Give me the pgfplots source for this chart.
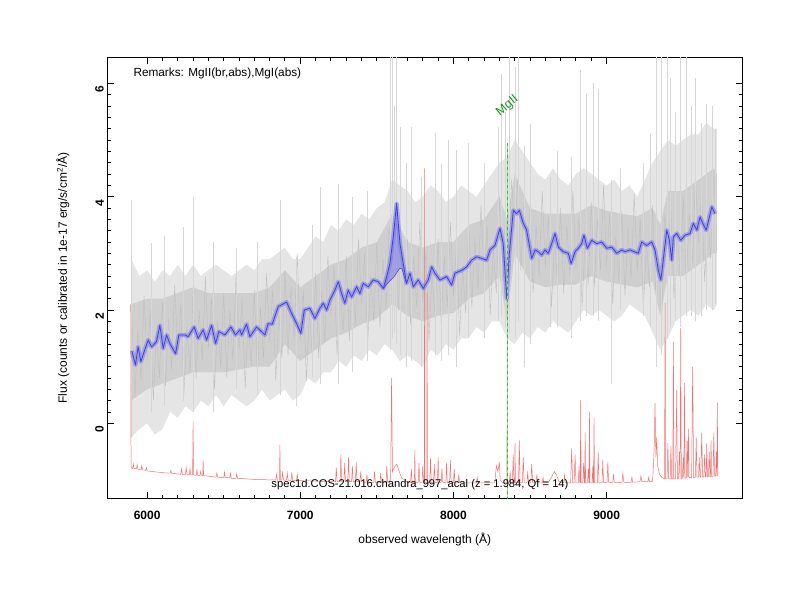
\documentclass[border=0pt]{standalone}
\usepackage{pgfplots}
\pgfplotsset{compat=1.18}
\usepgfplotslibrary{fillbetween}
\usepackage{fontspec}
\setmainfont{Liberation Sans}
\definecolor{grayout}{RGB}{229,229,229}
\definecolor{graycore}{RGB}{207,207,207}
\definecolor{grayjag}{RGB}{192,192,192}
\definecolor{grayspike}{RGB}{214,214,214}
\definecolor{blueline}{RGB}{65,65,222}
\definecolor{blueband}{RGB}{125,125,235}
\definecolor{redline}{RGB}{240,115,115}
\definecolor{mggreen}{RGB}{20,150,20}
\definecolor{mgdash}{RGB}{60,185,60}
\definecolor{mglight}{RGB}{150,220,150}

\pgfplotstableread{
x up lo
5895 2.9 -0.25
5950 2.6 -0.1
6000 2.7 0.0
6050 2.5 -0.2
6100 2.7 -0.1
6150 2.6 0.2
6200 2.8 0.1
6250 2.6 0.3
6300 2.8 0.2
6350 2.6 0.4
6400 2.7 0.3
6450 2.8 0.5
6500 2.7 0.3
6550 2.6 0.5
6600 2.7 0.4
6650 2.8 0.3
6700 2.7 0.4
6750 2.9 0.6
6800 2.9 0.4
6850 3.0 0.5
6900 3.1 0.6
6950 2.9 0.4
7000 2.9 0.5
7050 3.1 0.8
7100 3.3 0.7
7150 3.2 0.9
7200 3.5 0.9
7250 3.4 1.1
7300 3.6 1.0
7350 3.5 1.2
7400 3.7 1.1
7450 3.6 1.3
7500 3.8 1.2
7550 3.9 1.4
7600 4.3 1.3
7650 4.2 1.1
7700 4.1 1.2
7750 3.9 1.1
7800 4.0 1.0
7850 4.2 1.3
7900 4.1 1.2
7950 3.9 1.4
8000 4.0 1.3
8050 4.2 1.5
8100 4.1 1.5
8150 4.0 1.7
8200 4.2 1.6
8250 4.4 1.8
8300 4.6 1.8
8350 4.7 1.5
8400 5.0 1.4
8450 4.8 1.6
8500 4.6 1.5
8550 4.4 1.7
8600 4.3 1.6
8650 4.5 1.8
8700 4.3 1.7
8750 4.2 1.6
8800 4.4 1.8
8850 4.5 2.0
8900 4.4 1.9
8950 4.3 2.0
9000 4.2 1.9
9050 4.3 1.8
9100 4.1 1.9
9150 4.2 2.1
9200 4.0 2.0
9250 4.3 1.9
9300 4.6 1.6
9350 4.8 1.3
9400 5.0 1.5
9450 4.9 1.8
9500 5.0 1.9
9550 5.1 2.0
9600 5.1 1.9
9650 5.3 2.1
9700 5.2 2.0
9720 5.2 2.1
}\outer

\pgfplotstableread{
x up lo
5895 2.1 0.4
6000 2.2 0.6
6100 2.2 0.7
6200 2.3 0.8
6300 2.4 0.9
6400 2.3 0.9
6500 2.3 0.9
6600 2.3 0.95
6700 2.3 1.0
6800 2.4 1.0
6900 2.7 1.4
7000 2.4 1.1
7100 2.6 1.3
7200 2.8 1.5
7300 2.9 1.6
7400 3.1 1.75
7500 3.2 1.85
7600 3.7 2.1
7700 3.2 1.9
7800 3.1 1.8
7900 3.2 1.9
8000 3.2 1.95
8100 3.5 2.2
8200 3.6 2.3
8300 4.0 2.6
8350 3.6 1.8
8400 4.4 3.0
8500 3.8 2.5
8600 3.7 2.4
8700 3.7 2.45
8800 3.7 2.45
8900 3.85 2.6
9000 3.75 2.5
9100 3.7 2.45
9200 3.65 2.4
9300 3.8 2.5
9350 3.5 1.9
9400 4.1 2.6
9500 4.1 2.6
9600 4.3 2.8
9700 4.5 3.0
9720 4.4 3.0
}\core

\pgfplotstableread{
x y
5900 1.95
5920 0.45
5940 1.65
5960 0.75
5980 2.25
6000 1.1
6020 2.0
6040 0.4
6060 1.6
6080 0.8
6100 2.15
6120 0.65
6140 1.85
6160 0.95
6180 2.45
6200 1.2
6220 2.1
6240 0.5
6260 1.7
6280 0.9
6300 2.3
6320 0.8
6340 2.0
6360 1.1
6380 2.6
6400 1.3
6420 2.2
6440 0.6
6460 1.8
6480 1.0
6500 2.3
6520 0.8
6540 2.0
6560 1.1
6580 2.6
6600 1.32
6620 2.22
6640 0.62
6660 1.82
6680 1.02
6700 2.35
6720 0.85
6740 2.05
6760 1.15
6780 2.65
6800 1.45
6820 2.35
6840 0.75
6860 1.95
6880 1.15
6900 2.7
6920 1.2
6940 2.4
6960 1.5
6980 3.0
7000 1.45
7020 2.35
7040 0.75
7060 1.95
7080 1.15
7100 2.65
7120 1.15
7140 2.35
7160 1.45
7180 2.95
7200 1.9
7220 2.8
7240 1.2
7260 2.4
7280 1.6
7300 2.95
7320 1.45
7340 2.65
7360 1.75
7380 3.25
7400 2.1
7420 3.0
7440 1.4
7460 2.6
7480 1.8
7500 3.2
7520 1.7
7540 2.9
7560 2.0
7580 3.5
7600 2.7
7620 3.6
7640 2.0
7660 3.2
7680 2.4
7700 3.25
7720 1.75
7740 2.95
7760 2.05
7780 3.55
7800 2.15
7820 3.05
7840 1.45
7860 2.65
7880 1.85
7900 3.25
7920 1.75
7940 2.95
7960 2.05
7980 3.55
8000 2.25
8020 3.15
8040 1.55
8060 2.75
8080 1.95
8100 3.55
8120 2.05
8140 3.25
8160 2.35
8180 3.85
8200 2.6
8220 3.5
8240 1.9
8260 3.1
8280 2.3
8300 4.0
8320 2.5
8340 3.7
8360 2.8
8380 4.3
8400 3.4
8420 4.3
8440 2.7
8460 3.9
8480 3.1
8500 3.8
8520 2.3
8540 3.5
8560 2.6
8580 4.1
8600 2.75
8620 3.65
8640 2.05
8660 3.25
8680 2.45
8700 3.8
8720 2.3
8740 3.5
8760 2.6
8780 4.1
8800 2.75
8820 3.65
8840 2.05
8860 3.25
8880 2.45
8900 3.9
8920 2.4
8940 3.6
8960 2.7
8980 4.2
9000 2.8
9020 3.7
9040 2.1
9060 3.3
9080 2.5
9100 3.75
9120 2.25
9140 3.45
9160 2.55
9180 4.05
9200 2.7
9220 3.6
9240 2.0
9260 3.2
9280 2.4
9300 3.85
9320 2.35
9340 2.9
9360 1.8
9380 3.7
9400 2.9
9420 3.8
9440 2.2
9460 3.4
9480 2.6
9500 4.0
9520 2.5
9540 3.7
9560 2.8
9580 4.3
9600 3.2
9620 4.1
9640 2.5
9660 3.7
9680 2.9
9700 4.45
9720 3.05
}\jag

\pgfplotstableread{
x y
5898 -0.24
5898 3.94
5898 nan
6029 0.2
6029 3.18
6029 nan
6110 0.3
6110 3.3
6110 nan
6235 0.4
6235 3.47
6235 nan
6300 0.2
6300 4.0
6300 nan
6430 0.2
6430 3.2
6430 nan
6580 0.6
6580 3.1
6580 nan
6720 0.5
6720 3.2
6720 nan
6867 0.5
6867 3.94
6867 nan
6976 0.3
6976 2.94
6976 nan
7080 0.8
7080 3.5
7080 nan
7128 0.7
7128 4.17
7128 nan
7248 0.7
7248 4.23
7248 nan
7340 0.9
7340 4.0
7340 nan
7440 1.1
7440 4.1
7440 nan
7585 1.3
7585 6.46
7585 nan
7600 1.5
7600 6.46
7600 nan
7615 1.6
7615 5.6
7615 nan
7629 1.4
7629 6.46
7629 nan
7651 1.2
7651 5.23
7651 nan
7690 1.0
7690 4.6
7690 nan
7727 1.1
7727 5.23
7727 nan
7792 1.0
7792 4.35
7792 nan
7879 1.2
7879 5.12
7879 nan
7923 1.1
7923 4.58
7923 nan
7966 1.2
7966 5.0
7966 nan
8021 1.0
8021 4.82
8021 nan
8097 1.5
8097 4.94
8097 nan
8200 1.5
8200 4.6
8200 nan
8293 1.8
8293 5.23
8293 nan
8315 1.9
8315 6.17
8315 nan
8340 1.7
8340 5.5
8340 nan
8365 1.6
8365 6.46
8365 nan
8402 1.5
8402 6.29
8402 nan
8424 1.8
8424 6.46
8424 nan
8460 1.0
8460 4.9
8460 nan
8500 1.4
8500 5.29
8500 nan
8630 1.7
8630 4.35
8630 nan
8680 1.7
8680 4.8
8680 nan
8770 1.5
8770 4.7
8770 nan
8826 1.8
8826 6.23
8826 nan
8870 1.9
8870 5.82
8870 nan
8913 1.9
8913 6.0
8913 nan
8945 1.8
8945 5.9
8945 nan
9030 0.7
9030 4.3
9030 nan
9088 2.0
9088 4.5
9088 nan
9240 1.9
9240 4.6
9240 nan
9284 1.7
9284 5.1
9284 nan
9327 1.0
9327 6.46
9327 nan
9360 1.2
9360 6.46
9360 nan
9393 1.5
9393 6.46
9393 nan
9415 1.7
9415 6.1
9415 nan
9450 1.8
9450 5.5
9450 nan
9480 1.7
9480 6.46
9480 nan
9519 1.9
9519 6.46
9519 nan
9550 1.9
9550 5.6
9550 nan
9578 1.8
9578 6.1
9578 nan
9620 1.9
9620 5.3
9620 nan
9654 2.0
9654 5.64
9654 nan
9687 2.0
9687 5.6
9687 nan
9710 2.1
9710 5.2
}\spikes

\pgfplotstableread{
x y
5900 1.28
5924 1.03
5941 1.35
5959 1.09
5985 1.30
6007 1.47
6029 1.35
6061 1.44
6083 1.73
6105 1.32
6127 1.56
6148 1.41
6186 1.23
6207 1.56
6246 1.56
6268 1.53
6307 1.70
6333 1.50
6366 1.65
6388 1.47
6421 1.73
6447 1.41
6468 1.62
6508 1.56
6547 1.70
6577 1.56
6606 1.65
6617 1.56
6649 1.75
6671 1.53
6715 1.70
6769 1.56
6790 1.76
6817 1.75
6856 2.06
6911 2.14
6943 1.94
6976 1.76
7004 1.59
7026 2.00
7063 2.03
7095 1.85
7128 2.03
7150 2.12
7172 2.00
7193 2.17
7226 2.35
7248 2.50
7270 2.29
7291 2.12
7313 2.35
7335 2.23
7368 2.41
7389 2.29
7411 2.47
7444 2.41
7476 2.53
7509 2.50
7542 2.38
7564 2.59
7585 2.82
7607 3.29
7629 3.88
7651 3.17
7672 2.82
7694 2.47
7716 2.65
7738 2.41
7770 2.53
7803 2.38
7835 2.53
7858 2.76
7879 2.65
7912 2.53
7956 2.59
7988 2.44
8010 2.65
8054 2.70
8086 2.76
8119 2.88
8152 2.94
8184 2.91
8217 2.88
8239 3.06
8271 3.14
8304 3.44
8325 3.17
8348 2.20
8365 3.00
8391 3.76
8413 3.70
8430 3.76
8456 3.53
8478 3.41
8511 2.91
8533 3.06
8554 3.03
8576 2.97
8598 3.06
8619 3.00
8641 3.17
8663 3.35
8685 3.11
8717 3.03
8750 3.00
8768 2.82
8794 3.03
8815 3.09
8837 3.17
8852 3.32
8874 3.09
8903 3.23
8936 3.17
8968 3.20
9001 3.09
9034 3.11
9066 3.00
9099 3.06
9120 3.03
9153 3.06
9179 3.03
9207 3.00
9229 3.20
9262 3.14
9295 3.20
9316 3.06
9338 2.70
9354 2.53
9375 3.00
9393 3.41
9410 3.23
9425 2.88
9436 3.29
9458 3.35
9484 3.23
9512 3.32
9545 3.35
9566 3.53
9589 3.41
9610 3.64
9628 3.53
9650 3.41
9671 3.64
9687 3.82
9708 3.70
}\smooth

\pgfplotstableread{
x y
5893 2.1
5895 -0.78
5905 -0.8
5910 -0.72
5915 -0.8
5930 -0.8
5935 -0.73
5940 -0.81
5960 -0.82
5965 -0.75
5970 -0.82
5990 -0.83
5995 -0.78
6000 -0.84
6100 -0.87
6150 -0.88
6155 -0.83
6160 -0.88
6220 -0.9
6225 -0.8
6230 -0.9
6250 -0.9
6255 -0.78
6260 -0.9
6275 -0.91
6280 -0.8
6285 -0.91
6297 -0.91
6300 0.03
6303 -0.91
6320 -0.92
6325 -0.82
6330 -0.92
6345 -0.92
6350 -0.85
6355 -0.92
6363 -0.92
6366 -0.65
6369 -0.92
6450 -0.95
6455 -0.88
6460 -0.95
6500 -0.96
6505 -0.86
6510 -0.96
6540 -0.96
6545 -0.88
6550 -0.97
6580 -0.97
6585 -0.89
6590 -0.97
6700 -0.99
6840 -1.0
6845 -0.9
6850 -1.0
6864 -1.0
6867 -0.38
6870 -1.0
6880 -1.0
6885 -0.85
6890 -1.0
6910 -1.0
6915 -0.88
6920 -1.0
6940 -1.01
6945 -0.86
6950 -1.01
6975 -1.01
6980 -0.9
6985 -1.01
7100 -1.02
7230 -1.03
7235 -0.78
7240 -1.03
7260 -1.03
7265 -0.55
7270 -1.03
7285 -1.03
7290 -0.7
7295 -1.03
7310 -1.03
7315 -0.6
7320 -1.03
7335 -1.03
7340 -0.75
7345 -1.03
7360 -1.03
7365 -0.68
7370 -1.03
7390 -1.03
7395 -0.85
7400 -1.03
7430 -1.04
7435 -0.9
7440 -1.04
7480 -1.04
7485 -0.85
7490 -1.04
7520 -1.04
7525 -0.88
7530 -1.04
7560 -1.04
7565 -0.75
7570 -1.04
7590 -1.0
7596 0.8
7602 -0.85
7610 -0.8
7620 -0.75
7630 -0.72
7640 -0.8
7650 -0.88
7660 -0.95
7680 -1.0
7700 -1.04
7720 -1.04
7725 -0.8
7730 -1.04
7745 -1.04
7748 -0.47
7751 -1.04
7770 -1.04
7775 -0.7
7780 -1.04
7795 -1.04
7800 -0.75
7805 -1.04
7810 -1.04
7812 4.5
7814 -1.04
7826 -1.04
7828 2.3
7830 -1.04
7845 -1.04
7850 -0.62
7855 -1.04
7870 -1.04
7875 -0.72
7880 -1.04
7895 -1.04
7900 -0.6
7905 -1.04
7920 -1.04
7925 -0.8
7930 -1.04
7950 -1.05
7955 -0.7
7960 -1.05
7975 -1.05
7980 -0.65
7985 -1.05
8000 -1.05
8005 -0.8
8010 -1.05
8030 -1.05
8035 -0.9
8040 -1.05
8150 -1.05
8155 -0.95
8160 -1.05
8270 -1.05
8280 -0.75
8290 -0.85
8300 -0.68
8305 -1.0
8320 -1.05
8340 -1.05
8348 -1.05
8350 -0.05
8352 -1.05
8365 -1.05
8370 -0.85
8375 -1.05
8385 -1.05
8390 -0.55
8395 -1.05
8400 -1.05
8402 -0.35
8405 -1.05
8425 -1.05
8430 -0.3
8435 -1.05
8450 -1.05
8456 -0.6
8462 -1.05
8480 -1.05
8485 -0.85
8490 -1.05
8505 -1.05
8511 -0.72
8517 -1.05
8540 -1.05
8545 -0.9
8550 -1.05
8580 -1.05
8585 -0.95
8590 -1.05
8620 -1.04
8640 -0.95
8660 -0.85
8670 -0.9
8690 -1.03
8720 -1.05
8725 -0.92
8730 -1.05
8765 -1.05
8772 -0.44
8778 -1.05
8788 -1.05
8794 -0.55
8800 -1.05
8815 -1.05
8820 -0.75
8825 -1.05
8828 -1.05
8831 0.41
8834 -1.05
8845 -1.05
8850 -0.7
8855 -1.05
8857 -1.05
8860 -0.16
8863 -1.05
8875 -1.05
8880 -0.8
8885 -1.05
8888 0.2
8891 -1.05
8905 -1.05
8910 -0.75
8913 -1.05
8915 -1.05
8918 0.1
8921 -1.05
8940 -1.05
8945 -0.5
8950 -1.05
8970 -1.05
8975 -0.65
8980 -1.05
9003 -1.04
9008 -0.68
9013 -1.04
9040 -1.04
9045 -0.9
9050 -1.04
9100 -1.04
9106 -0.88
9112 -1.04
9160 -1.04
9165 -0.95
9170 -1.04
9218 -1.03
9224 -0.93
9230 -1.03
9270 -1.03
9275 -0.95
9280 -1.03
9300 -1.02
9310 -0.5
9316 0.36
9322 -0.6
9327 -0.25
9333 -0.75
9345 -0.9
9360 -0.95
9372 -0.98
9378 -0.98
9382 2.12
9386 -0.98
9395 -0.98
9400 -0.35
9405 -0.98
9415 -0.98
9420 -0.4
9425 -0.98
9432 -0.98
9436 1.44
9440 -0.98
9450 -0.98
9458 0.59
9462 -0.98
9470 -0.97
9475 -0.5
9480 -0.97
9484 1.68
9488 -0.97
9495 -0.97
9500 -0.6
9504 -0.97
9508 0.71
9512 -0.97
9520 -0.96
9525 -0.3
9530 -0.96
9534 -0.1
9538 -0.96
9555 -0.96
9562 1.0
9568 -0.96
9580 -0.95
9585 -0.24
9590 -0.95
9600 -0.95
9605 -0.6
9610 -0.95
9615 -0.95
9621 -0.17
9627 -0.95
9635 -0.94
9640 -0.55
9645 -0.94
9650 -0.94
9654 -0.35
9658 -0.94
9665 -0.94
9670 -0.5
9675 -0.94
9678 -0.94
9682 -0.3
9686 -0.94
9695 -0.93
9700 -0.16
9705 -0.93
9712 -0.93
9717 -0.5
9720 -0.93
9723 0.36
9726 -0.93
}\sky

\begin{document}
\begin{tikzpicture}[x=1pt,y=1pt]
\begin{axis}[
  at={(107.3pt,101.3pt)}, anchor=south west,
  scale only axis, width=635pt, height=441.4pt,
  xmin=5740, xmax=9886, ymin=-1.33, ymax=6.46,
  xtick={6000,7000,8000,9000}, ytick={0,2,4,6},
  minor x tick num=9, minor y tick num=9,
  scaled x ticks=false,
  tick align=inside,
  major tick length=6.5pt, minor tick length=3.3pt,
  every tick/.style={black, line width=1pt},
  axis line style={line width=1.3pt},
  /pgf/number format/assume math mode=true,
  /pgf/number format/1000 sep={},
  ticklabel style={font=\bfseries\fontsize{12}{14}\selectfont},
  xticklabel style={yshift=-9pt},
  yticklabel style={rotate=90, anchor=south, xshift=-6pt},
  xlabel={observed wavelength (Å)},
  ylabel={Flux (counts or calibrated in 1e-17 erg/s/cm\textsuperscript{2}/Å)},
  label style={font=\fontsize{12}{14}\selectfont},
  xlabel style={at={(axis description cs:0.5,-0.092)}, anchor=center},
  ylabel style={at={(axis description cs:-0.0698,0.5)}, anchor=center},
]
% gray observed spectrum: outer envelope, dense core, noisy trace, spikes
\addplot[name path=OU, draw=none, forget plot] table[x=x,y=up] {\outer};
\addplot[name path=OL, draw=none, forget plot] table[x=x,y=lo] {\outer};
\addplot[fill=grayout, draw=none, forget plot] fill between[of=OU and OL];
\addplot[name path=CU, draw=none, forget plot] table[x=x,y=up] {\core};
\addplot[name path=CL, draw=none, forget plot] table[x=x,y=lo] {\core};
\addplot[fill=graycore, draw=none, forget plot] fill between[of=CU and CL];
\addplot[grayjag, line width=0.4pt, forget plot] table[x=x,y=y] {\jag};
\addplot[grayspike, line width=0.6pt, unbounded coords=jump, forget plot] table[x=x,y=y] {\spikes};
% sky spectrum
\addplot[redline, line width=0.5pt, forget plot] table[x=x,y=y] {\sky};
% smoothed spectrum with band
\addplot[blueband, opacity=0.6, line width=4.2pt, line join=round, forget plot] table[x=x,y=y] {\smooth};
\addplot[fill=blueband, opacity=0.6, draw=none, forget plot] coordinates {
 (7542,2.38) (7564,2.59) (7585,2.82) (7607,3.29) (7629,3.88) (7651,3.17) (7672,2.82) (7694,2.47)
 (7680,2.58) (7665,2.72) (7650,2.74) (7630,2.66) (7610,2.58) (7580,2.50) (7542,2.38)};
\addplot[blueline, line width=0.8pt, line join=round, forget plot] table[x=x,y=y] {\smooth};
\addplot[blueline, line width=0.5pt, forget plot] coordinates {
 (7542,2.38) (7580,2.50) (7610,2.58) (7630,2.66) (7650,2.74) (7665,2.72) (7680,2.58) (7694,2.47)};
% MgII line marker
\addplot[mglight, line width=1.5pt, forget plot] coordinates {(8351.5,4.95) (8351.5,-1.33)};
\addplot[mgdash, line width=1.5pt, dash pattern=on 3pt off 3pt, forget plot] coordinates {(8351.5,4.95) (8351.5,-1.33)};
\node[rotate=40, text=mggreen, font=\fontsize{12.5}{14}\selectfont] at (axis cs:8353,5.6) {MgII};
\node[anchor=west, font=\fontsize{11.8}{14}\selectfont] at (rel axis cs:0.0357,0.9644) {Remarks: MgII(br,abs),MgI(abs)};
\node[font=\fontsize{11.2}{13}\selectfont] at (rel axis cs:0.4924,0.031) {spec1d.COS-21.016.chandra\_997\_acal (z = 1.984, Qf = 14)};
\end{axis}
\path (0,0) rectangle (800,600);
\end{tikzpicture}
\end{document}
